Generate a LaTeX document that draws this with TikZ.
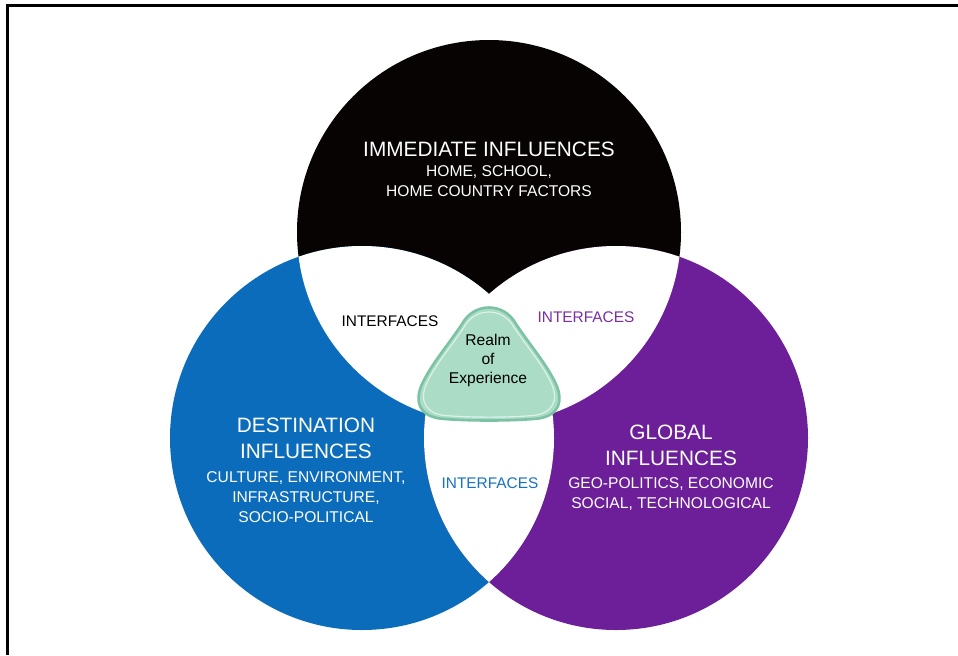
\documentclass[tikz,border=0pt]{standalone}
\usepackage{fontspec}
\setmainfont{Liberation Sans}
\definecolor{immblack}{HTML}{070303}
\definecolor{destblue}{HTML}{0A6CBB}
\definecolor{globpurple}{HTML}{6C1F99}
\definecolor{ifblue}{HTML}{1672C2}
\definecolor{ifpurple}{HTML}{7B2EA6}
\definecolor{realmfill}{HTML}{AADCC6}
\definecolor{realmedge}{HTML}{7CC2A4}
\begin{document}
\begin{tikzpicture}[x=0.5pt,y=-0.5pt,
  title/.style={text=white,align=center,inner sep=0pt,font=\fontsize{10.4}{13}\selectfont},
  sub/.style={text=white,align=center,inner sep=0pt,font=\fontsize{7.8}{9.9}\selectfont},
  iface/.style={inner sep=0pt,font=\fontsize{7.7}{9}\selectfont}]
\useasboundingbox (0,0) rectangle (958,655);
\draw[line width=1.6pt] (7.5,655)--(7.5,5.5)--(958,5.5);
% the three circles
\coordinate (cimm) at (489,232);
\coordinate (cdest) at (362,438);
\coordinate (cglob) at (616,438);
\fill[immblack] (cimm) circle[radius=96pt];
\fill[destblue] (cdest) circle[radius=96pt];
\fill[globpurple] (cglob) circle[radius=96pt];
% overlaps are white
\begin{scope}
\clip (cimm) circle[radius=96pt];
\fill[white] (cdest) circle[radius=96pt];
\fill[white] (cglob) circle[radius=96pt];
\end{scope}
\begin{scope}
\clip (cdest) circle[radius=96pt];
\fill[white] (cglob) circle[radius=96pt];
\end{scope}
% realm of experience
\def\realmpath{(462,324) .. controls (474,302) and (504,302) .. (516,324)
  .. controls (530,345) and (545,362) .. (555,382)
  .. controls (566,404) and (556,418) .. (533,419)
  .. controls (508,421) and (470,421) .. (445,419)
  .. controls (422,418) and (412,404) .. (423,382)
  .. controls (433,362) and (448,345) .. (462,324) -- cycle}
\filldraw[fill=realmfill,draw=realmedge,line width=1.3pt] \realmpath;
\draw[white,opacity=.6,line width=.6pt,scale around={0.93:(489,372)}] \realmpath;
\node[inner sep=0pt,align=center,font=\fontsize{7.8}{9.5}\selectfont] (realm) at (488,360) {Realm\\of\\Experience};
% labels
\node[title] (immtitle) at (489,149) {IMMEDIATE INFLUENCES};
\node[sub] (immsub) at (489,181) {HOME, SCHOOL,\\HOME COUNTRY FACTORS};
\node[title] (desttitle) at (306,438) {DESTINATION\\INFLUENCES};
\node[sub] (destsub) at (306,497) {CULTURE, ENVIRONMENT,\\INFRASTRUCTURE,\\SOCIO-POLITICAL};
\node[title] (globtitle) at (671,445) {GLOBAL\\INFLUENCES};
\node[sub] (globsub) at (671,494) {GEO-POLITICS, ECONOMIC\\SOCIAL, TECHNOLOGICAL};
\node[iface,text=black] (ifimm) at (390,321) {INTERFACES};
\node[iface,text=ifpurple] (ifglob) at (586,317) {INTERFACES};
\node[iface,text=ifblue] (ifdest) at (490,483) {INTERFACES};
\end{tikzpicture}
\end{document}
